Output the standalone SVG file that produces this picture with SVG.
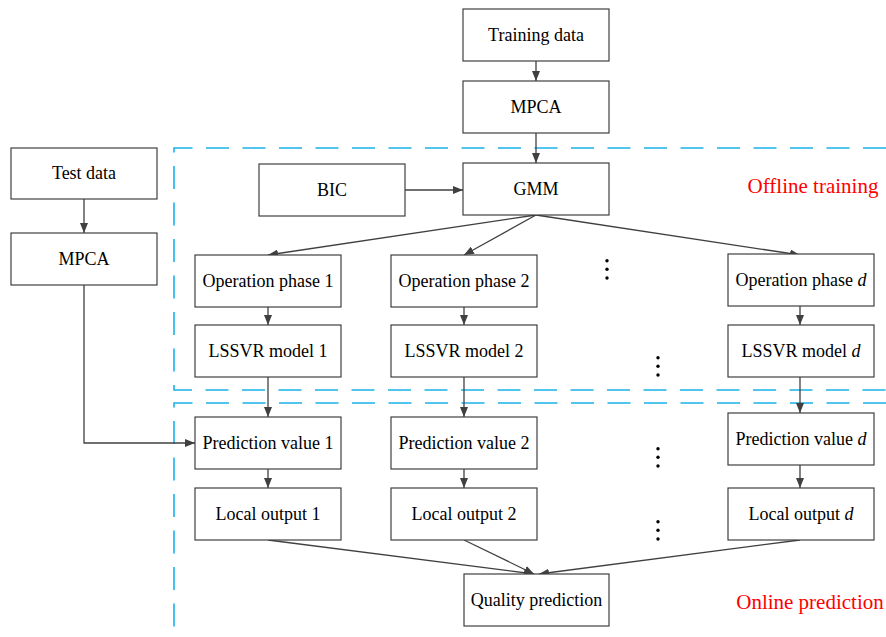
<svg xmlns="http://www.w3.org/2000/svg" width="886" height="637" viewBox="0 0 886 637">
  <style>
    .box { fill: #ffffff; stroke: #404040; stroke-width: 1.2; }
    .lbl { font-family: 'Liberation Serif', 'Times New Roman', Times, 'DejaVu Serif', serif; font-size: 18px; fill: #000000; text-anchor: middle; }
    .red { font-family: 'Liberation Serif', 'Times New Roman', Times, 'DejaVu Serif', serif; font-size: 21px; fill: #ff0000; text-anchor: middle; }
    .edge { fill: none; stroke: #404040; stroke-width: 1.3; marker-end: url(#arr); }
    .region { fill: none; stroke: #1ab2ea; stroke-width: 1.6; stroke-dasharray: 23 13.5; }
    .dot { fill: #000000; }
  </style>
  <defs>
    <marker id="arr" viewBox="0 0 10 8" refX="10" refY="4" markerWidth="10" markerHeight="8" markerUnits="userSpaceOnUse" orient="auto">
      <path d="M0,0 L10,4 L0,8 z" fill="#404040"/>
    </marker>
  </defs>

  <!-- dashed stage regions -->
  <g id="regions">
    <path class="region" d="M886,148 H174 V390 H886"/>
    <path class="region" d="M886,403 H174 V637"/>
  </g>

  <!-- connectors -->
  <g id="connectors">
    <line class="edge" x1="536" y1="61" x2="536" y2="81"/>
    <line class="edge" x1="536" y1="133" x2="536" y2="163"/>
    <line class="edge" x1="405" y1="190" x2="463" y2="190"/>
    <line class="edge" x1="536" y1="215" x2="268" y2="255"/>
    <line class="edge" x1="536" y1="215" x2="464" y2="255"/>
    <line class="edge" x1="536" y1="215" x2="800" y2="255"/>
    <line class="edge" x1="84" y1="199" x2="84" y2="233"/>
    <polyline class="edge" points="84,285 84,443 195,443"/>
    <line class="edge" x1="268" y1="307" x2="268" y2="325"/>
    <line class="edge" x1="464" y1="307" x2="464" y2="325"/>
    <line class="edge" x1="800" y1="306" x2="800" y2="325"/>
    <line class="edge" x1="268" y1="377" x2="268" y2="417"/>
    <line class="edge" x1="464" y1="377" x2="464" y2="417"/>
    <line class="edge" x1="800" y1="377" x2="800" y2="413"/>
    <line class="edge" x1="268" y1="469" x2="268" y2="488"/>
    <line class="edge" x1="464" y1="469" x2="464" y2="488"/>
    <line class="edge" x1="800" y1="465" x2="800" y2="488"/>
    <line class="edge" x1="268" y1="540" x2="534" y2="574"/>
    <line class="edge" x1="464" y1="540" x2="534" y2="574"/>
    <line class="edge" x1="800" y1="540" x2="539" y2="574"/>
  </g>

  <g id="training-data"><rect class="box" x="463" y="9" width="146" height="52"/><text class="lbl" x="536" y="41">Training data</text></g>
  <g id="mpca-train"><rect class="box" x="463" y="81" width="146" height="52"/><text class="lbl" x="536" y="113">MPCA</text></g>
  <g id="gmm"><rect class="box" x="463" y="163" width="146" height="52"/><text class="lbl" x="536" y="195">GMM</text></g>
  <g id="bic"><rect class="box" x="259" y="164" width="146" height="52"/><text class="lbl" x="332" y="196">BIC</text></g>
  <g id="test-data"><rect class="box" x="11" y="148" width="146" height="51"/><text class="lbl" x="84" y="179">Test data</text></g>
  <g id="mpca-test"><rect class="box" x="11" y="233" width="146" height="52"/><text class="lbl" x="84" y="265">MPCA</text></g>

  <g id="phase-1"><rect class="box" x="195" y="255" width="146" height="52"/><text class="lbl" x="268" y="287">Operation phase 1</text></g>
  <g id="phase-2"><rect class="box" x="391" y="255" width="146" height="52"/><text class="lbl" x="464" y="287">Operation phase 2</text></g>
  <g id="phase-d"><rect class="box" x="728" y="254" width="146" height="52"/><text class="lbl" x="801" y="286">Operation phase <tspan font-style="italic">d</tspan></text></g>

  <g id="lssvr-1"><rect class="box" x="195" y="325" width="146" height="52"/><text class="lbl" x="268" y="357">LSSVR model 1</text></g>
  <g id="lssvr-2"><rect class="box" x="391" y="325" width="146" height="52"/><text class="lbl" x="464" y="357">LSSVR model 2</text></g>
  <g id="lssvr-d"><rect class="box" x="728" y="325" width="146" height="52"/><text class="lbl" x="801" y="357">LSSVR model <tspan font-style="italic">d</tspan></text></g>

  <g id="pred-1"><rect class="box" x="195" y="417" width="146" height="52"/><text class="lbl" x="268" y="449">Prediction value 1</text></g>
  <g id="pred-2"><rect class="box" x="391" y="417" width="146" height="52"/><text class="lbl" x="464" y="449">Prediction value 2</text></g>
  <g id="pred-d"><rect class="box" x="728" y="413" width="146" height="52"/><text class="lbl" x="801" y="445">Prediction value <tspan font-style="italic">d</tspan></text></g>

  <g id="local-1"><rect class="box" x="195" y="488" width="146" height="52"/><text class="lbl" x="268" y="520">Local output 1</text></g>
  <g id="local-2"><rect class="box" x="391" y="488" width="146" height="52"/><text class="lbl" x="464" y="520">Local output 2</text></g>
  <g id="local-d"><rect class="box" x="728" y="488" width="146" height="52"/><text class="lbl" x="801" y="520">Local output <tspan font-style="italic">d</tspan></text></g>

  <g id="quality"><rect class="box" x="464" y="574" width="145" height="52"/><text class="lbl" x="536.5" y="606">Quality prediction</text></g>

  <!-- ellipsis marks between columns -->
  <g id="ellipses">
    <circle class="dot" cx="607" cy="260.7" r="1.7"/><circle class="dot" cx="607" cy="269.3" r="1.7"/><circle class="dot" cx="607" cy="278" r="1.7"/>
    <circle class="dot" cx="658" cy="357.7" r="1.7"/><circle class="dot" cx="658" cy="366.3" r="1.7"/><circle class="dot" cx="658" cy="375" r="1.7"/>
    <circle class="dot" cx="658" cy="448.7" r="1.7"/><circle class="dot" cx="658" cy="457.3" r="1.7"/><circle class="dot" cx="658" cy="466" r="1.7"/>
    <circle class="dot" cx="658" cy="521.7" r="1.7"/><circle class="dot" cx="658" cy="530.3" r="1.7"/><circle class="dot" cx="658" cy="539" r="1.7"/>
  </g>

  <g id="stage-labels">
    <text class="red" x="813" y="193">Offline training</text>
    <text class="red" x="810" y="609">Online prediction</text>
  </g>
</svg>
